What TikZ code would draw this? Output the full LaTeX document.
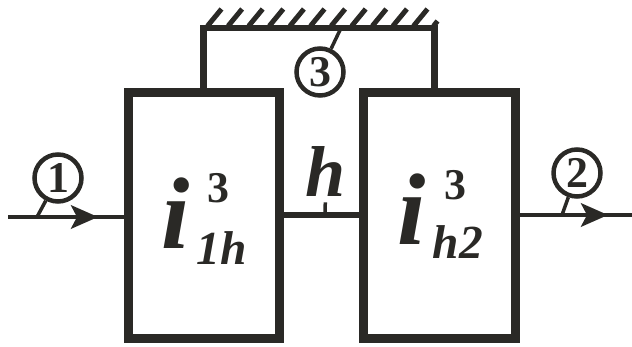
\documentclass[tikz,border=0pt]{standalone}
\usepackage{fontspec}
\setmainfont{Liberation Serif}
\usepackage{xcolor}
\usetikzlibrary{arrows.meta, positioning, calc}
\definecolor{inkdark}{HTML}{2A2926}

\begin{document}
\begin{tikzpicture}[
    x=0.02cm, y=-0.02cm,
    >=Stealth,
    % Styles
    stage/.style={rectangle, draw=inkdark, line width=0.18cm, minimum width=3.04cm, minimum height=4.92cm},
    flow/.style={draw=inkdark, line width=0.085cm},
    flowtip/.style={flow, -{Stealth[length=0.54cm, width=0.47cm, inset=0.12cm]}},
    ground/.style={draw=inkdark, line width=0.13cm},
    hatch/.style={draw=inkdark, line width=0.1cm},
    leader/.style={draw=inkdark, line width=0.07cm},
    tag/.style={circle, draw=inkdark, line width=0.09cm, minimum size=0.94cm, inner sep=0pt, text=inkdark, font=\fontsize{25}{25}\selectfont\bfseries},
    bigsym/.style={inner sep=0pt, text=inkdark, font=\fontsize{#1}{#1}\selectfont\bfseries\itshape},
    upsym/.style={inner sep=0pt, text=inkdark, font=\fontsize{#1}{#1}\selectfont\bfseries},
]
\useasboundingbox (0,0) rectangle (632,347);

% -- Stages --
\node[stage] (stage1) at (204,215.5) {};
\node[stage, right=1.5cm of stage1] (stage2) {};

% -- Stage symbols --
\node[bigsym=58] (sym1) at (176,213) {i};
\node[upsym=25] (sup1) at (218,188) {3};
\node[bigsym=27] (sub1) at (222,248) {1h};
\node[bigsym=58] (sym2) at (412,209) {i};
\node[upsym=25] (sup2) at (455,185) {3};
\node[bigsym=27] (sub2) at (458,242) {h2};

% -- Inlet --
\coordinate (inlet) at (8,217);
\coordinate (inlettip) at (98,217);
\coordinate (inletfoot) at (37,217);
\node[tag] (tag1) at (58,178) {1};
\draw[flow] (inlet) -- (stage1.west |- inlet);
\draw[flowtip] (inlet) -- (inlettip);
\draw[leader] (inletfoot) -- (tag1);

% -- Outlet --
\coordinate (outlet) at (632,215);
\coordinate (outlettip) at (608,215);
\coordinate (outletfoot) at (562,215);
\node[tag] (tag2) at (577,173) {2};
\draw[flow] (stage2.east |- outlet) -- (outlet);
\draw[flowtip] (stage2.east |- outlettip) -- (outlettip);
\draw[leader] (outletfoot) -- (tag2);

% -- Link between stages --
\node[bigsym=41] (link) at (326,172) {h};
\coordinate (linkfoot) at (325,215);
\draw[draw=inkdark, line width=0.12cm] (stage1.east |- linkfoot) -- (stage2.west |- linkfoot);
\draw[leader, shorten >=0.1cm] (linkfoot) -- (link);

% -- Ground --
\coordinate (wallleft) at (203.5,28);
\coordinate (wallright) at (434.5,28);
\draw[ground] (wallleft |- stage1.north) -- (wallleft) -- (wallright) -- (wallright |- stage2.north);
\foreach \k in {0,...,10} {
    \draw[hatch] ($(wallleft)+(4+\k*20.6,-2)$) -- ++(14,-17);
}
\draw[hatch] ($(wallright)+(-1,-2)$) -- ++(4,-5);

\node[tag] (tag3) at (320,72) {3};
\coordinate (wallfoot) at (341,28);
\draw[leader] (wallfoot) -- (tag3);

\end{tikzpicture}
\end{document}
